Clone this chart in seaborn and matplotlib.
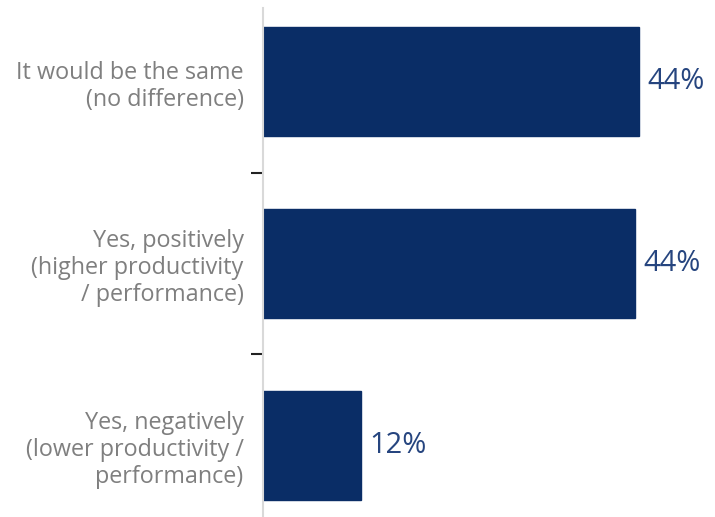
import matplotlib
matplotlib.use("Agg")
import matplotlib.pyplot as plt
import seaborn as sns
import pandas as pd
from matplotlib.ticker import FixedLocator

categories = [
    "It would be the same\n(no difference)",
    "Yes, positively\n(higher productivity\n/ performance)",
    "Yes, negatively\n(lower productivity /\nperformance)",
]
shares = [44.4, 43.9, 11.6]
value_labels = ["44%", "44%", "12%"]

bar_color = "#0A2D66"
value_color = "#26457F"
label_color = "#7F7F7F"

sns.set_theme(style="white")
plt.rcParams["font.family"] = ["Open Sans", "DejaVu Sans"]

df = pd.DataFrame({"answer": categories, "share": shares})

fig = plt.figure(figsize=(7.15, 5.17), dpi=100)
ax = fig.add_axes([263 / 715, 0.0, (699 - 263) / 715, (517 - 8) / 517])

sns.barplot(data=df, x="share", y="answer", orient="h", color=bar_color,
            saturation=1, width=0.6, ax=ax)

for patch in ax.patches:
    patch.set_edgecolor(bar_color)

ax.set_xlim(0, 51.5)
ax.set_ylim(2.393, -0.404)

for i, (v, txt) in enumerate(zip(shares, value_labels)):
    ax.annotate(txt, xy=(v, i), xytext=(6, 0), textcoords="offset points",
                ha="left", va="center", fontsize=21, color=value_color)

ax.set_xlabel("")
ax.set_ylabel("")
ax.set_xticks([])
ax.tick_params(axis="y", which="major", length=0, pad=14,
               labelsize=16.8, labelcolor=label_color)
for lab in ax.get_yticklabels():
    lab.set_horizontalalignment("right")
    lab.set_linespacing(1.17)

ax.yaxis.set_minor_locator(FixedLocator([0.5, 1.5]))
ax.tick_params(axis="y", which="minor", length=9, width=1.5,
               color="#222222", left=True)

for side in ["top", "right", "bottom"]:
    ax.spines[side].set_visible(False)
ax.spines["left"].set_color("#D9D9D9")
ax.spines["left"].set_linewidth(1.5)

fig.savefig("out.png", dpi=100)
